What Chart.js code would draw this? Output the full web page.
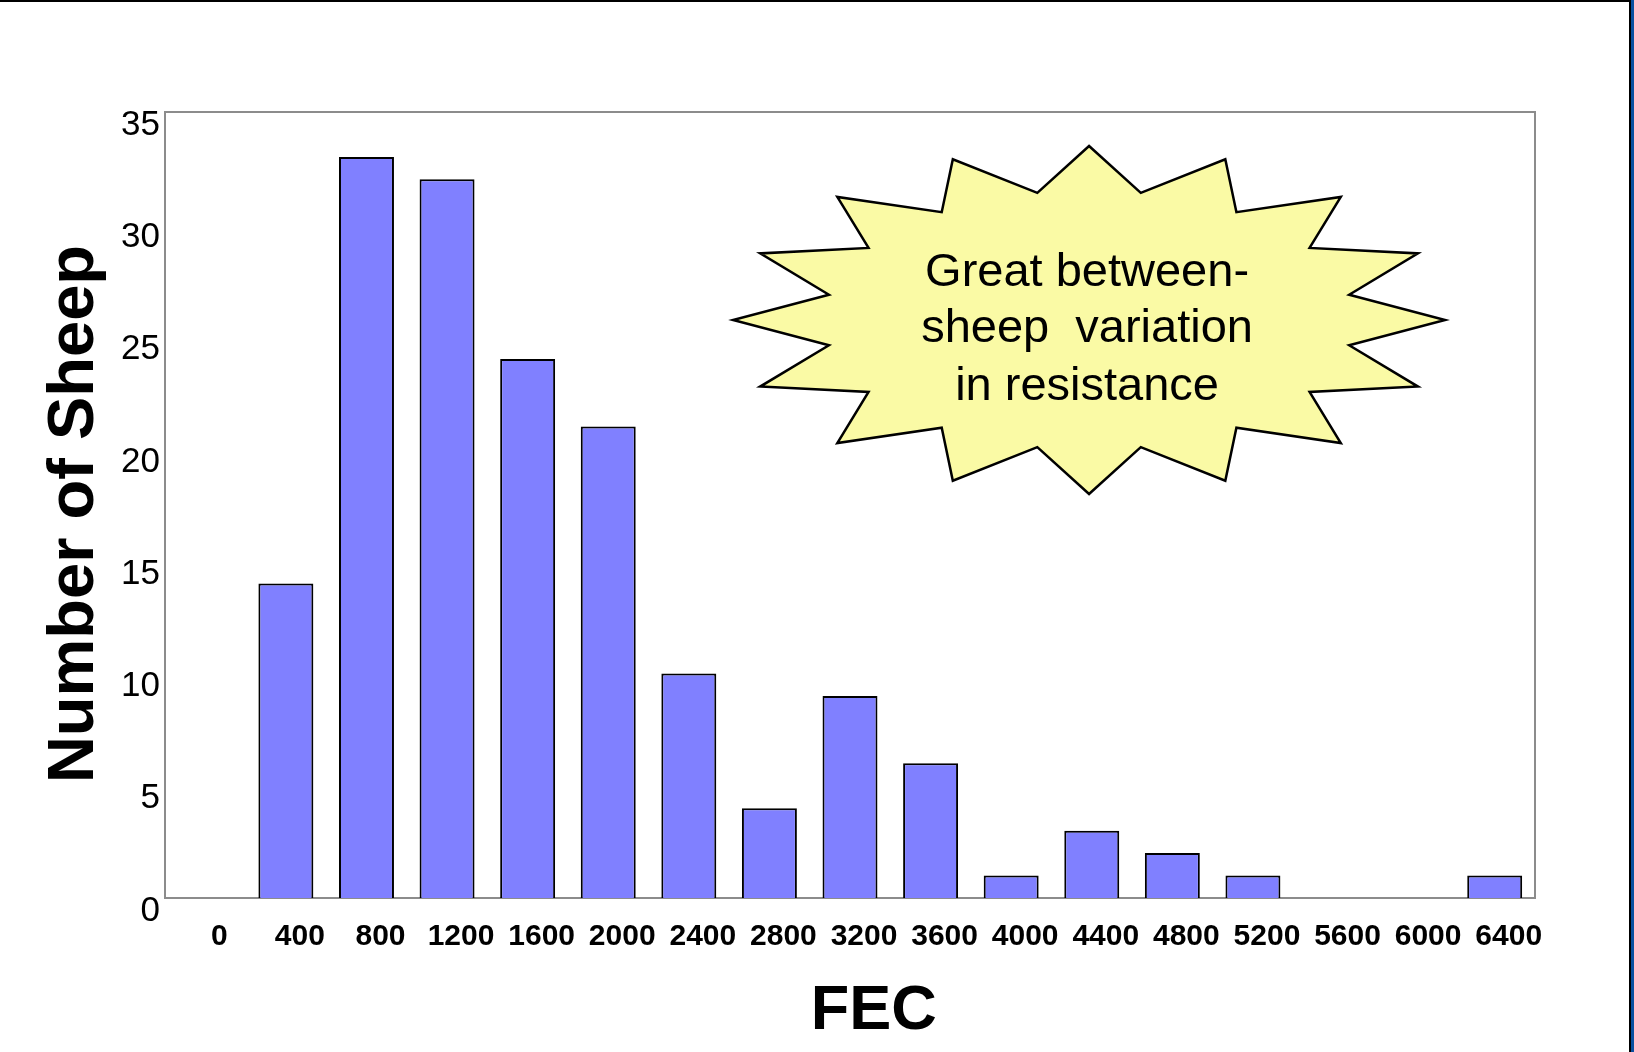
<!DOCTYPE html>
<html>
<head>
<meta charset="utf-8">
<script src="https://cdn.jsdelivr.net/npm/chart.js@4.4.1/dist/chart.umd.min.js"></script>
<style>
  html, body { margin: 0; padding: 0; background: #fff; }
  #marco { position: relative; width: 1634px; height: 1052px; overflow: hidden; }
  #borde-sup { position: absolute; left: 0; top: 0; width: 1631px; height: 2px; background: #000; }
  #borde-der { position: absolute; left: 1629px; top: 0; width: 2px; height: 1052px; background: #000; }
  #banda-azul { position: absolute; left: 1631px; top: 0; width: 3px; height: 1052px; background: #0a4f9f; }
</style>
</head>
<body>
<div id="marco">
  <canvas id="graficoFEC"></canvas>
  <div id="borde-sup"></div>
  <div id="borde-der"></div>
  <div id="banda-azul"></div>
</div>
<script>
// Datos
const etiquetasFEC = ['0', '400', '800', '1200', '1600', '2000', '2400', '2800', '3200',
  '3600', '4000', '4400', '4800', '5200', '5600', '6000', '6400'];
const numeroOvejas = [0, 14, 33, 32, 24, 21, 10, 4, 9, 6, 1, 3, 2, 1, 0, 0, 1];
const ticksY = [0, 5, 10, 15, 20, 25, 30, 35];
const textoEstrella = ['Great between-', 'sheep  variation', 'in resistance'];

const fuente = "'Liberation Sans', Arial, Helvetica, sans-serif";

// Marco gris alrededor del area del grafico
const marcoGris = {
  id: 'marcoGris',
  beforeDatasetsDraw(chart) {
    const { ctx, chartArea: a } = chart;
    ctx.save();
    ctx.strokeStyle = '#8c8c8c';
    ctx.lineWidth = 2;
    ctx.strokeRect(a.left, a.top, a.right - a.left, a.bottom - a.top);
    ctx.restore();
  }
};

// Estrella amarilla con el texto
const estrella = {
  id: 'estrella',
  afterDatasetsDraw(chart) {
    const { ctx, chartArea: a } = chart;
    const cx = a.left + (a.right - a.left) * 0.6745;
    const cy = a.top + (a.bottom - a.top) * 0.2646;
    const rx = 356, ry = 174, interior = 0.745, puntas = 16;
    ctx.save();
    ctx.beginPath();
    for (let i = 0; i < puntas * 2; i++) {
      const ang = -Math.PI / 2 + i * Math.PI / puntas;
      const r = i % 2 === 0 ? 1 : interior;
      const x = cx + Math.cos(ang) * rx * r;
      const y = cy + Math.sin(ang) * ry * r;
      if (i === 0) ctx.moveTo(x, y); else ctx.lineTo(x, y);
    }
    ctx.closePath();
    ctx.fillStyle = '#fafaa5';
    ctx.fill();
    ctx.lineWidth = 2.5;
    ctx.strokeStyle = '#000';
    ctx.lineJoin = 'miter';
    ctx.stroke();

    ctx.fillStyle = '#000';
    ctx.font = '47px ' + fuente;
    ctx.textAlign = 'center';
    ctx.textBaseline = 'alphabetic';
    const bases = [-34, 22, 80];
    textoEstrella.forEach((linea, i) => ctx.fillText(linea, cx - 2, cy + bases[i]));
    ctx.restore();
  }
};

const ctx = document.getElementById('graficoFEC').getContext('2d');

new Chart(ctx, {
  type: 'bar',
  data: {
    labels: etiquetasFEC,
    datasets: [{
      label: 'Number of Sheep',
      data: numeroOvejas,
      backgroundColor: '#8080ff',
      borderColor: '#000',
      borderWidth: 2,
      barPercentage: 0.682,
      categoryPercentage: 1.0
    }]
  },
  options: {
    responsive: true,
    maintainAspectRatio: false,
    animation: false,
    layout: { padding: { top: 112, right: 99, bottom: 0, left: 0 } },
    plugins: {
      legend: { display: false },
      tooltip: { enabled: false }
    },
    scales: {
      x: {
        grid: { display: false, drawTicks: false },
        border: { display: false },
        ticks: {
          color: '#000',
          font: { family: fuente, size: 30, weight: 'bold' },
          padding: 21,
          labelOffset: 14,
          maxRotation: 0,
          autoSkip: false
        },
        title: {
          display: true,
          // espacios delante: el titulo original esta un poco a la derecha
          text: '  \u2009FEC',
          color: '#000',
          font: { family: fuente, size: 63, weight: 'bold' },
          padding: { top: 0, bottom: 3 }
        },
        afterFit(scale) { scale.height = 154; }
      },
      y: {
        min: 0,
        max: 35,
        afterBuildTicks(scale) { scale.ticks = ticksY.map(v => ({ value: v })); },
        grid: { display: false, drawTicks: false },
        border: { display: false },
        ticks: {
          color: '#000',
          font: { family: fuente, size: 35 },
          padding: 5,
          labelOffset: 13
        },
        title: {
          display: true,
          text: 'Number of Sheep ',
          color: '#000',
          font: { family: fuente, size: 65, weight: 'bold' },
          padding: { top: 36, bottom: 0 }
        },
        afterFit(scale) { scale.width = 165; }
      }
    }
  },
  plugins: [marcoGris, estrella]
});
</script>
</body>
</html>
